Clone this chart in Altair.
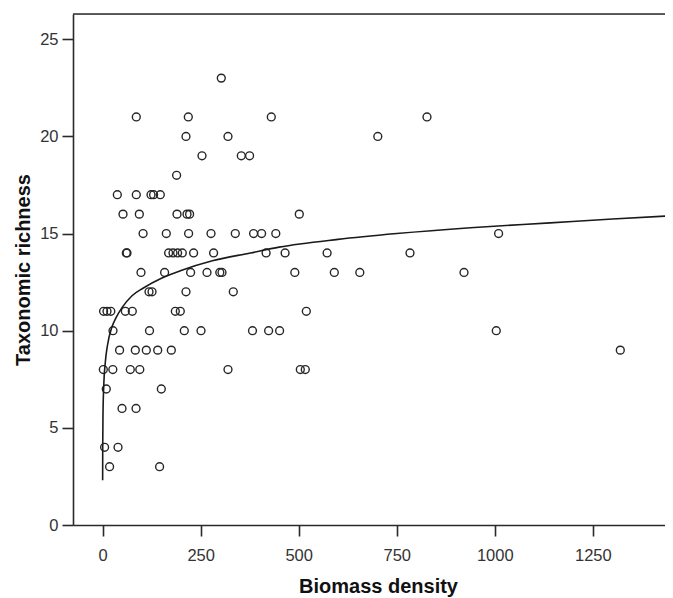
import altair as alt
import pandas as pd

# Values, grouped by richness level
levels = [23, 21, 20, 19, 18, 17, 16, 15, 14, 13, 12, 11, 10, 9, 8, 7, 6, 4, 3]
biomass_by_level = [
    [302.6],
    [85.9, 218.5, 430.1, 827.1],
    [212.6, 319.7, 701.7],
    [253.4, 353.6, 374.8],
    [188.7],
    [37.5, 85.9, 123.4, 130.0, 147.1],
    [52.0, 93.6, 189.7, 215.2, 221.8, 501.5],
    [103.2, 162.4, 219.3, 276.4, 338.3, 385.0, 405.4, 441.6, 1009.7],
    [60.5, 62.2, 168.3, 179.5, 191.2, 203.2, 232.0, 283.0, 416.9, 465.3, 572.4, 783.8],
    [97.9, 158.1, 224.4, 266.2, 298.8, 304.4, 490.1, 590.8, 655.8, 921.5],
    [118.3, 126.0, 212.6, 333.2],
    [2.5, 11.2, 20.9, 57.9, 75.7, 185.4, 198.1, 519.4],
    [26.5, 119.6, 208.3, 250.9, 382.2, 423.3, 451.3, 1003.8],
    [43.3, 83.4, 111.4, 140.5, 175.2, 1320.0],
    [1.8, 26.0, 70.6, 94.8, 319.7, 504.1, 516.8],
    [9.4, 149.7],
    [49.5, 85.2],
    [5.1, 39.3],
    [17.8, 145.3],
]

# Fitted (logarithmic) curve
curve_x = [0.09, 0.3, 1.0, 2.6, 7.0, 12.0, 24.0, 35.0, 50.0, 75.0, 104.0, 150.0,
           200.0, 280.0, 377.0, 450.0, 600.0, 750.0, 938.0, 1141.0, 1300.0, 1480.0]
curve_y = [2.3, 4.0, 5.7, 7.0, 8.4, 9.2, 10.2, 10.7, 11.2, 11.8, 12.2, 12.7,
           13.1, 13.6, 14.0, 14.3, 14.7, 15.0, 15.3, 15.55, 15.75, 15.95]

x_ticks = [0, 250, 500, 750, 1000, 1250]
y_ticks = [0, 5, 10, 15, 20, 25]

biomass = []
richness = []
for lv, xs in zip(levels, biomass_by_level):
    for v in xs:
        biomass.append(v)
        richness.append(lv)
df = pd.DataFrame({"biomass": biomass, "richness": richness})
curve_df = pd.DataFrame({"biomass": curve_x, "richness": curve_y})

W, H = 592, 511
FONT = "Liberation Sans"
xscale = alt.Scale(domain=[-75.5, 1434], nice=False, zero=False)
yscale = alt.Scale(domain=[0, 26.3], nice=False, zero=False)

xaxis = alt.Axis(
    values=x_ticks, format="d", title="Biomass density", grid=False,
    domainColor="#2a2a2a", domainWidth=1.6, tickColor="#2a2a2a", tickWidth=1.6, tickSize=11,
    labelFont=FONT, labelFontSize=16.5, labelColor="#333333", labelPadding=11,
    titleFont=FONT, titleFontSize=20, titleFontWeight="bold", titleColor="#111111",
    titleX=305, titleY=67, titleAnchor="middle", titleAlign="center", titleBaseline="alphabetic",
)
yaxis = alt.Axis(
    values=y_ticks, format="d", title="Taxonomic richness", grid=False,
    domainColor="#2a2a2a", domainWidth=1.6, tickColor="#2a2a2a", tickWidth=1.6, tickSize=11,
    labelFont=FONT, labelFontSize=16.5, labelColor="#333333", labelPadding=4,
    titleFont=FONT, titleFontSize=20, titleFontWeight="bold", titleColor="#111111",
    titleX=-50, titleY=255.5, titleAngle=270, titleAlign="center", titleBaseline="middle",
)

points = alt.Chart(df).mark_point(
    shape="circle", filled=False, size=62, strokeWidth=1.4, color="#262626", opacity=1
).encode(
    x=alt.X("biomass:Q", scale=xscale, axis=xaxis),
    y=alt.Y("richness:Q", scale=yscale, axis=yaxis),
)

fit = alt.Chart(curve_df).mark_line(
    color="#1a1a1a", strokeWidth=1.6, clip=True, interpolate="monotone"
).encode(
    x=alt.X("biomass:Q", scale=xscale),
    y=alt.Y("richness:Q", scale=yscale),
)

top_border = alt.Chart(pd.DataFrame({"k": [0]})).mark_rule(
    color="#2a2a2a", strokeWidth=1.6
).encode(x=alt.value(0), x2=alt.value(W), y=alt.value(0))

chart = alt.layer(points, fit, top_border).properties(
    width=W, height=H,
    autosize=alt.AutoSizeParams(type="none"),
    padding={"left": 65, "top": 6, "right": 0, "bottom": 72},
).configure_view(
    fill="#f0f0f0", stroke="transparent", strokeWidth=0
).configure(background="white")

chart.save("out.html", embed_options={"renderer": "svg", "actions": False})
